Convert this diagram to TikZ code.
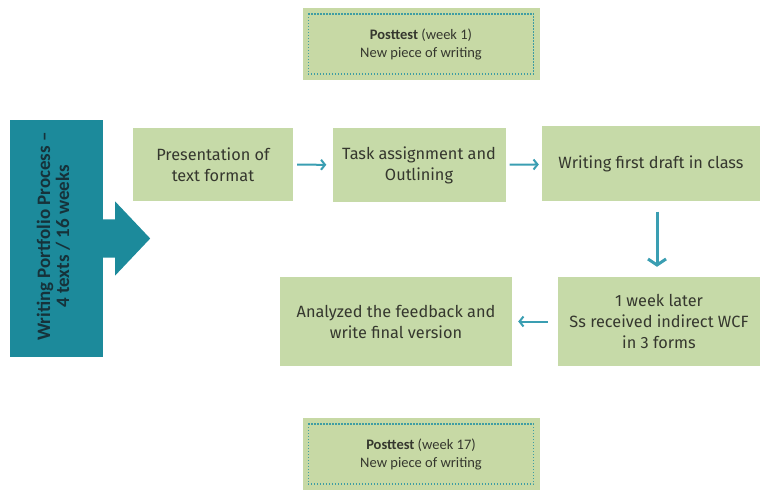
\documentclass[tikz,border=0pt]{standalone}
\usepackage{fontspec}
\setmainfont{Fira Sans}
\newfontfamily\carl{Carlito}
\usetikzlibrary{arrows.meta}
\definecolor{boxgreen}{HTML}{C6DAA8}
\definecolor{testgreen}{HTML}{C7D9A5}
\definecolor{dotteal}{HTML}{3F9DA3}
\definecolor{blockteal}{HTML}{1C8A9B}
\definecolor{arrowteal}{HTML}{3A9EB2}
\definecolor{txtgrey}{HTML}{35372E}
\definecolor{blocktxt}{HTML}{16323A}

\begin{document}
\begin{tikzpicture}[x=1pt,y=-1pt,
		stepbox/.style={rectangle,fill=boxgreen,text=txtgrey,align=center,inner sep=0pt,
			font=\fontsize{16.3}{21}\selectfont},
		testbox/.style={rectangle,fill=testgreen,text=txtgrey,align=center,inner sep=0pt,
			minimum width=237pt,minimum height=72pt,font=\carl\fontsize{14.5}{18}\selectfont},
		dotframe/.style={dotteal,line width=1.5pt,dash pattern=on 1.5pt off 1.5pt},
		thin arrow/.style={draw=arrowteal,line width=2pt,-{Straight Barb[length=4pt,width=10pt]}}]
			\useasboundingbox (0,0) rectangle (762,494);
			\node [testbox] (pre) at (421,44) {\textbf{Posttest} (week 1)\\New piece of writing};
			\node [testbox] (post) at (421,454) {\textbf{Posttest} (week 17)\\New piece of writing};
			\draw [dotframe] ([shift={(6,6)}]pre.north west) rectangle ([shift={(-6,-6)}]pre.south east);
			\draw [dotframe] ([shift={(6,6)}]post.north west) rectangle ([shift={(-6,-6)}]post.south east);
			\node [rectangle,fill=blockteal,minimum width=93pt,minimum height=237pt,inner sep=0pt] (portfolio) at (56.5,238.5) {};
			\node [rotate=90,text=blocktxt,align=center,font=\carl\bfseries\fontsize{19}{19}\selectfont] (portlabel) at ([xshift=-3pt,yshift=2pt]portfolio.center) {Writing Portfolio Process –\\4 texts / 16 weeks};
			\fill [blockteal] (portfolio.east) ++(-1,-19) -- ++(13,0) -- ++(0,-18) -- ++(35,37) -- ++(-35,37) -- ++(0,-18) -- ++(-13,0) -- cycle;
			\node [stepbox,minimum width=160pt,minimum height=73pt] (format) at (213,164.5) {Presentation of\\text format};
			\node [stepbox,minimum width=173pt,minimum height=74pt] (task) at (419,165) {Task assignment and\\Outlining};
			\node [stepbox,minimum width=218pt,minimum height=75pt] (draft) at (651,164) {Writing first draft in class};
			\node [stepbox,minimum width=202pt,minimum height=89pt] (wcf) at (659,321.5) {1 week later\\Ss received indirect WCF\\in 3 forms};
			\node [stepbox,minimum width=232pt,minimum height=89pt] (final) at (396,321.5) {Analyzed the feedback and\\write final version};
			\draw [thin arrow,shorten <=4pt,shorten >=6pt] (format) -- (task);
			\draw [thin arrow,shorten <=4pt,shorten >=3pt] (task) -- (draft);
			\draw [draw=arrowteal,line width=3pt,-{Straight Barb[length=6pt,width=18pt]},shorten <=10pt,shorten >=10pt] (draft.south -| 657,0) -- (wcf.north -| 657,0);
			\draw [thin arrow,shorten <=10pt,shorten >=6pt] (wcf) -- (final);
\end{tikzpicture}
\end{document}
